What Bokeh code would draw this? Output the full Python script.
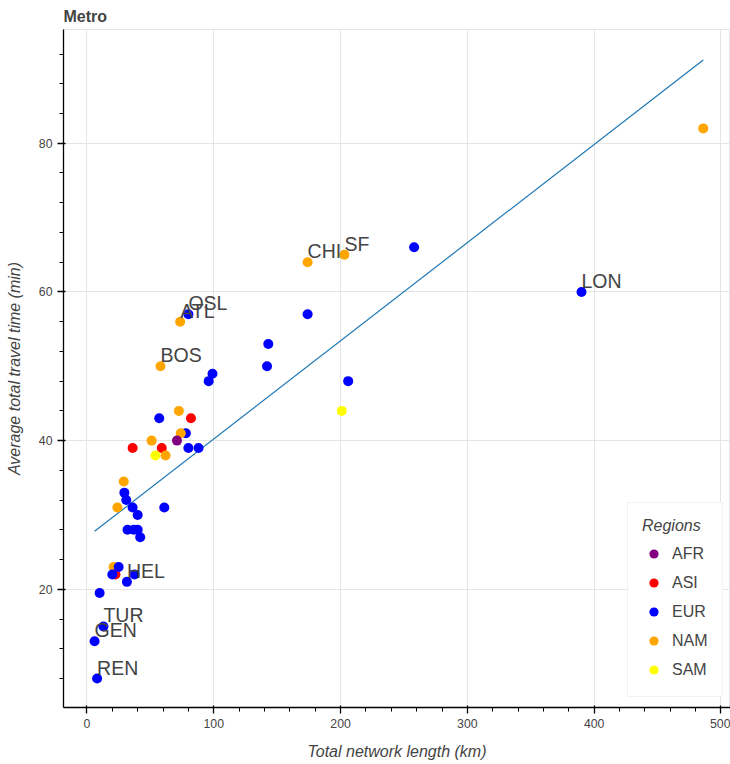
from bokeh.plotting import figure
from bokeh.models import ColumnDataSource, Range1d
from bokeh.transform import factor_cmap
from bokeh.core.properties import value
from bokeh.embed import file_html
from bokeh.resources import INLINE

# ---- data ----
length_km = [72.5, 57, 82, 78, 74, 71, 51, 36, 59, 80, 88, 54, 62, 29, 29.5, 31, 24, 36, 40, 61,
             32, 37, 40, 42, 21, 22.5, 25, 20, 37.5, 31.5, 10, 13, 6, 8, 58, 73.5, 80, 99, 96,
             174, 203, 258, 174, 143, 142, 206, 201, 390, 486]
travel_min = [44, 43, 43, 41, 41, 40, 40, 39, 39, 39, 39, 38, 38, 34.5, 33, 32, 31, 31, 30, 31,
              28, 28, 28, 27, 23, 22, 23, 22, 22, 21, 19.5, 15, 13, 8, 50, 56, 57, 49, 48,
              64, 65, 66, 57, 53, 50, 48, 44, 60, 82]
region = ["NAM", "EUR", "ASI", "EUR", "NAM", "AFR", "NAM", "ASI", "ASI", "EUR", "EUR", "SAM", "NAM",
          "NAM", "EUR", "EUR", "NAM", "EUR", "EUR", "EUR", "EUR", "EUR", "EUR", "EUR", "NAM", "ASI",
          "EUR", "EUR", "EUR", "EUR", "EUR", "EUR", "EUR", "EUR", "NAM", "NAM", "EUR", "EUR", "EUR",
          "NAM", "NAM", "EUR", "EUR", "EUR", "EUR", "EUR", "SAM", "EUR", "NAM"]
city_label = ["", "", "", "", "", "", "", "", "", "", "", "", "", "", "", "", "", "", "", "",
              "", "", "", "", "", "", "", "", "", "HEL", "", "TUR", "GEN", "REN", "BOS", "ATL", "OSL", "", "",
              "CHI", "SF", "", "", "", "", "", "", "LON", ""]

regions = ["AFR", "ASI", "EUR", "NAM", "SAM"]
region_colors = ["purple", "red", "blue", "orange", "yellow"]

# regression line end points
fit_x = [6, 486]
fit_y = [27.8, 91.2]

FONT = "Liberation Sans"

src = ColumnDataSource(dict(x=length_km, y=travel_min, region=region, label=city_label))

p = figure(width=730, height=764, title="Metro", output_backend="svg", toolbar_location=None,
           x_range=Range1d(-18.5, 507.5), y_range=Range1d(4.1, 95.3),
           x_axis_label="Total network length (km)",
           y_axis_label="Average total travel time (min)",
           min_border_left=63, min_border_right=0, min_border_top=29, min_border_bottom=57)

p.title.text_font = FONT
p.title.text_font_size = "16px"
p.title.text_color = "#444444"

for ax in (p.xaxis[0], p.yaxis[0]):
    ax.axis_label_text_font = FONT
    ax.axis_label_text_font_size = "16px"
    ax.axis_label_text_font_style = "italic"
    ax.axis_label_text_color = "#444444"
    ax.major_label_text_font = FONT
    ax.major_label_text_font_size = "12.3px"
    ax.major_label_text_color = "#444444"
    ax.axis_line_width = 1.3
    ax.major_tick_line_width = 1.3
p.xaxis[0].axis_label_standoff = 12
p.yaxis[0].axis_label_standoff = 13

p.line(fit_x, fit_y, line_color="#1f77b4", line_width=1.2)

p.scatter("x", "y", source=src, size=10, line_color=None,
          fill_color=factor_cmap("region", region_colors, regions),
          legend_group="region")

p.text("x", "y", text="label", source=src, text_font=value(FONT),
       text_font_size="19.5px", text_color="#444444")

lg = p.legend[0]
lg.location = (564, 10)
lg.title = "Regions"
lg.title_text_font = FONT
lg.title_text_font_size = "16px"
lg.title_text_font_style = "italic"
lg.title_text_color = "#444444"
lg.title_standoff = 6
lg.label_text_font = FONT
lg.label_text_font_size = "16px"
lg.label_text_color = "#444444"
lg.padding = 14
lg.spacing = 4
lg.label_height = 25
lg.glyph_height = 25
lg.glyph_width = 23
lg.label_standoff = 7

open("out.html", "w").write(file_html(p, INLINE))
